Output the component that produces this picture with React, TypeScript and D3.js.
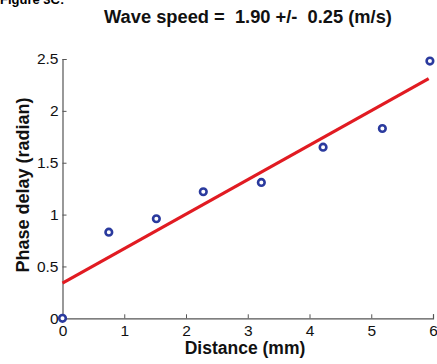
import React, { useEffect, useRef } from 'react';
import * as d3 from 'd3';

const distance = [0, 0.75, 1.52, 2.28, 3.22, 4.22, 5.18, 5.95];
const phaseDelay = [0, 0.83, 0.96, 1.22, 1.31, 1.65, 1.83, 2.48];
const fitLine = [
  { x: 0, y: 0.34 },
  { x: 5.93, y: 2.31 },
];
const xTicks = [0, 1, 2, 3, 4, 5, 6];
const yTicks = [0, 0.5, 1, 1.5, 2, 2.5];

const W = 437;
const H = 364;
const FONT = 'Liberation Sans, Arial, sans-serif';

function App() {
  const ref = useRef<SVGSVGElement>(null);

  useEffect(() => {
    const svg = d3.select(ref.current);
    svg.selectAll('*').remove();

    const x = d3.scaleLinear().domain([0, 6]).range([62.5, 433]);
    const y = d3.scaleLinear().domain([0, 2.5]).range([318.3, 59]);
    const axisColor = '#555';

    // caption, cut off at the top edge like the original
    svg.append('text')
      .attr('x', 0).attr('y', 4)
      .attr('font-family', FONT)
      .attr('font-weight', 'bold').attr('font-size', 13)
      .text('Figure 3C:');

    svg.append('text')
      .attr('x', 248).attr('y', 23)
      .attr('text-anchor', 'middle')
      .attr('font-family', FONT)
      .attr('font-weight', 'bold').attr('font-size', 18.3)
      .attr('fill', '#111')
      .style('white-space', 'pre')
      .text('Wave speed =  1.90 +/-  0.25 (m/s)');

    // axes (MATLAB style, ticks pointing inward)
    const gx = svg.append('g')
      .attr('transform', `translate(0,${y(0)})`)
      .call(d3.axisBottom(x).tickValues(xTicks).tickSize(-4).tickPadding(7).tickFormat(d3.format('d')));
    const gy = svg.append('g')
      .attr('transform', `translate(${x(0)},0)`)
      .call(d3.axisLeft(y).tickValues(yTicks).tickSize(-4).tickPadding(4).tickFormat((d) => String(d)));

    [gx, gy].forEach((g) => {
      g.select('.domain').attr('stroke', axisColor).attr('stroke-width', 1.2);
      g.selectAll('.tick line').attr('stroke', axisColor);
      g.selectAll('.tick text')
        .attr('fill', '#111')
        .attr('font-family', FONT)
        .attr('font-size', 15.5);
    });
    gx.selectAll('.tick text').attr('dy', '0.72em');

    svg.append('text')
      .attr('x', 245).attr('y', 354)
      .attr('text-anchor', 'middle')
      .attr('font-family', FONT)
      .attr('font-weight', 'bold').attr('font-size', 17.5)
      .attr('fill', '#111')
      .text('Distance (mm)');

    svg.append('text')
      .attr('transform', `translate(29,185) rotate(-90)`)
      .attr('text-anchor', 'middle')
      .attr('font-family', FONT)
      .attr('font-weight', 'bold').attr('font-size', 18)
      .attr('fill', '#111')
      .text('Phase delay (radian)');

    // linear fit
    const line = d3.line<{ x: number; y: number }>()
      .x((d) => x(d.x))
      .y((d) => y(d.y));
    svg.append('path')
      .datum(fitLine)
      .attr('d', line)
      .attr('fill', 'none')
      .attr('stroke', '#e11b22')
      .attr('stroke-width', 3.2);

    // measured points
    svg.append('g')
      .selectAll('circle')
      .data(distance.map((d, i) => ({ x: d, y: phaseDelay[i] })))
      .enter()
      .append('circle')
      .attr('cx', (d) => x(d.x))
      .attr('cy', (d) => y(d.y))
      .attr('r', 3.3)
      .attr('fill', 'white')
      .attr('stroke', '#2a3a9e')
      .attr('stroke-width', 2.6);
  }, []);

  return <svg ref={ref} width={W} height={H} style={{ display: 'block', position: 'absolute', left: 0, top: 0 }} />;
}

export default App;
